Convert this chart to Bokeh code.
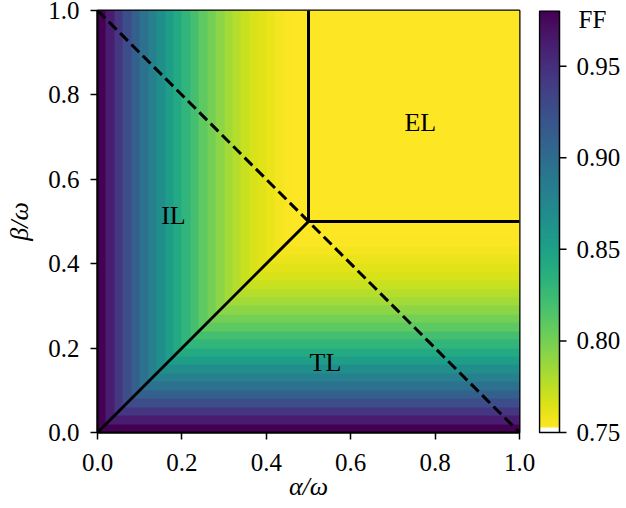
import numpy as np
from bokeh.plotting import figure
from bokeh.layouts import row
from bokeh.models import LinearColorMapper, FixedTicker, PrintfTickFormatter
from bokeh.palettes import Viridis256
from bokeh.core.properties import value
from bokeh.embed import file_html
from bokeh.resources import INLINE

# FF value of each 0.02-wide stripe, from alpha (or beta) = 0 up to 0.5
stripe_ff = [0.9804, 0.9616, 0.9436, 0.9264, 0.9100, 0.8944, 0.8796, 0.8656,
             0.8524, 0.8400, 0.8284, 0.8176, 0.8076, 0.7984, 0.7900, 0.7824,
             0.7756, 0.7696, 0.7644, 0.7600, 0.7564, 0.7536, 0.7516, 0.7504,
             0.7500]
n_cells = 50
# phase boundaries
il_tl_x = [0.0, 0.5]
il_tl_y = [0.0, 0.5]
el_v_x = [0.5, 0.5]
el_v_y = [0.5, 1.0]
el_h_x = [0.5, 1.0]
el_h_y = [0.5, 0.5]
dash_x = [0.0, 1.0]
dash_y = [1.0, 0.0]
region_names = ["IL", "TL", "EL"]
region_x = [0.18, 0.54, 0.765]
region_y = [0.515, 0.165, 0.735]
x_ticks = [0.0, 0.2, 0.4, 0.6, 0.8, 1.0]
y_ticks = [0.0, 0.2, 0.4, 0.6, 0.8, 1.0]
cb_ticks = [0.75, 0.80, 0.85, 0.90, 0.95]
cb_tick_labels = ["0.75", "0.80", "0.85", "0.90", "0.95"]
cb_title = "FF"
ff_low = 0.75
ff_high = 0.9804

# grid: FF set by the smaller of alpha, beta (capped at the 0.5 stripe)
idx = np.arange(n_cells)
last = len(stripe_ff) - 1
ii, jj = np.meshgrid(idx, idx)  # ii: alpha cell, jj: beta cell (rows)
k = np.minimum(np.minimum(ii, jj), last)
grid = np.array(stripe_ff)[k]

serif = "Liberation Serif"
fs = "25px"
pal = list(reversed(Viridis256))

TOP, BOTTOM, FRAME = 10, 76, 422

p = figure(frame_width=FRAME, frame_height=FRAME, x_range=(0, 1), y_range=(0, 1),
           output_backend="svg", toolbar_location=None,
           min_border_left=97, min_border_top=TOP, min_border_bottom=BOTTOM,
           min_border_right=19)
mapper = LinearColorMapper(palette=pal, low=ff_low, high=ff_high)
p.image(image=[grid], x=0, y=0, dw=1, dh=1, color_mapper=mapper)

lw = 3
p.line(il_tl_x, il_tl_y, line_color="black", line_width=lw)
p.line(el_v_x, el_v_y, line_color="black", line_width=lw)
p.line(el_h_x, el_h_y, line_color="black", line_width=lw)
p.line(dash_x, dash_y, line_color="black", line_width=lw, line_dash="11 5")

p.text(x=region_x, y=region_y, text=region_names, text_font=value(serif),
       text_font_size="26px", text_align="center", text_baseline="middle",
       text_color="black")

p.grid.visible = False
p.outline_line_color = "black"
p.outline_line_width = 2
for ax in (p.xaxis[0], p.yaxis[0]):
    ax.major_label_text_font = serif
    ax.major_label_text_font_size = fs
    ax.major_label_text_color = "black"
    ax.axis_label_text_font = serif
    ax.axis_label_text_font_size = "26px"
    ax.axis_label_text_font_style = "italic"
    ax.axis_label_text_color = "black"
    ax.minor_tick_line_color = None
    ax.major_tick_out = 7
    ax.major_tick_in = 0
    ax.major_tick_line_color = "black"
    ax.major_tick_line_width = 1.5
    ax.axis_line_color = "black"
    ax.axis_line_width = 2
    ax.formatter = PrintfTickFormatter(format="%.1f")
p.xaxis[0].ticker = FixedTicker(ticks=x_ticks)
p.yaxis[0].ticker = FixedTicker(ticks=y_ticks)
p.xaxis[0].major_label_standoff = 14
p.yaxis[0].major_label_standoff = 11
p.xaxis[0].axis_label_standoff = -2
p.yaxis[0].axis_label_standoff = 11
p.xaxis[0].axis_label = "α/ω"
p.yaxis[0].axis_label = "β/ω"

# colour bar: its own figure, frame top aligned with the main frame,
# reaching down to the bottom of the window so the lowest label fits
u = (ff_high - ff_low) / FRAME  # FF per pixel, same scale as the bar
cbf = figure(frame_width=88, frame_height=FRAME + BOTTOM, x_range=(0, 88),
             y_range=(ff_low - BOTTOM * u, ff_high),
             output_backend="svg", toolbar_location=None,
             x_axis_location=None, y_axis_location=None,
             min_border_left=0, min_border_right=0,
             min_border_top=TOP, min_border_bottom=0)
cbf.grid.visible = False
cbf.outline_line_color = None
cb_pal = ["#ffffff"] * 5 + [c for c in pal for _ in range(2)]
cb_mapper = LinearColorMapper(palette=cb_pal, low=ff_low, high=ff_high)
cb_vals = np.linspace(ff_low, ff_high, 844).reshape(-1, 1)
cbf.image(image=[cb_vals], x=1, y=ff_low, dw=20, dh=ff_high - ff_low,
          color_mapper=cb_mapper)
cbf.quad(left=[1], right=[21], bottom=[ff_low], top=[ff_high - 0.5 * u],
         fill_color=None, line_color="black", line_width=1.5)
cbf.segment(x0=[21] * len(cb_ticks), x1=[28] * len(cb_ticks),
            y0=cb_ticks, y1=cb_ticks, line_color="black", line_width=1.5)
cbf.text(x=[38] * len(cb_ticks), y=cb_ticks, text=cb_tick_labels,
         text_font=value(serif), text_font_size=fs, text_align="left",
         text_baseline="middle", text_color="black")
cbf.text(x=[40], y=[ff_high - 9 * u], text=[cb_title],
         text_font=value(serif), text_font_size=fs, text_align="left",
         text_baseline="middle", text_color="black")

layout = row(p, cbf, spacing=0)
open("out.html", "w").write(file_html(layout, INLINE))
